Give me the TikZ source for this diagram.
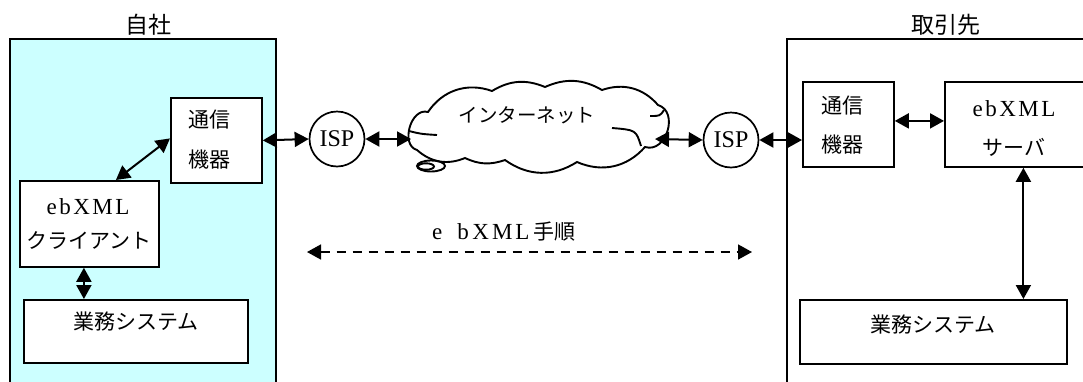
\documentclass[tikz,border=0pt]{standalone}
\usepackage{fontspec}
\setmainfont{Liberation Serif}
\newfontfamily\jp{Noto Sans CJK JP}
\usetikzlibrary{arrows.meta}
\definecolor{lcyan}{RGB}{204,255,255}
\newcommand\ebxmlword{e\kern2.5pt b\kern2.5pt X\kern2.5pt M\kern2.5pt L}
\tikzset{
  area/.style={draw, line width=1.7pt, inner sep=0pt, anchor=north west},
  box/.style={draw, line width=1.8pt, fill=white, inner sep=0pt, anchor=north west},
  jptxt/.style={inner sep=0pt, font=\jp\fontsize{21}{25}\selectfont},
  titletxt/.style={inner sep=0pt, font=\jp\fontsize{23}{27}\selectfont},
  lattxt/.style={inner sep=0pt, font=\fontsize{23}{27}\selectfont},
  ispnode/.style={draw, circle, line width=1.7pt, minimum size=55pt, inner sep=0pt, font=\fontsize{24}{28}\selectfont},
  biarrow/.style={{Triangle[length=14pt,width=15pt]}-{Triangle[length=14pt,width=15pt]}, line width=2pt},
  dasharrow/.style={{Triangle[length=14pt,width=15pt]}-{Triangle[length=14pt,width=15pt]}, line width=1.6pt, dash pattern=on 9pt off 7pt},
  cloudline/.style={line width=1.9pt}
}
\begin{document}
\begin{tikzpicture}[x=1pt,y=-1pt]
\useasboundingbox (0,0) rectangle (1083,381);
\clip (0,0) rectangle (1083,381);

% areas
\node[area, fill=lcyan, minimum width=266pt, minimum height=360pt] (own) at (9,38) {};
\node[area, fill=white, minimum width=310pt, minimum height=360pt] (partner) at (786,38) {};
\node[titletxt] (owntitle) at (148,25) {自社};
\node[titletxt] (partnertitle) at (946,25) {取引先};

% left side boxes
\node[box, minimum width=91pt, minimum height=85pt] (lcom) at (170,97) {};
\node[jptxt, align=left] (lcomtxt) at (209,140) {通信\\[15pt]機器};
\node[box, minimum width=139pt, minimum height=86pt] (cli) at (19,180) {};
\node[lattxt] (clitxt1) at (88,207) {\ebxmlword};
\node[jptxt] (clitxt2) at (89,240) {クライアント};
\node[box, minimum width=224pt, minimum height=63pt] (lgyo) at (23,299) {};
\node[jptxt] (lgyotxt) at (136,322) {業務システム};

% right side boxes
\node[box, minimum width=91pt, minimum height=85pt] (rcom) at (802,81) {};
\node[jptxt, align=left] (rcomtxt) at (842,125.5) {通信\\[14pt]機器};
\node[box, minimum width=139pt, minimum height=85pt] (srv) at (944,81) {};
\node[lattxt] (srvtxt1) at (1014,109) {\ebxmlword};
\node[jptxt] (srvtxt2) at (1014,147) {サーバ};
\node[box, minimum width=267pt, minimum height=64pt] (rgyo) at (799,299) {};
\node[jptxt] (rgyotxt) at (933,325) {業務システム};

% ISP nodes
\node[ispnode] (isp1) at (337,139) {ISP};
\node[ispnode] (isp2) at (731,140) {ISP};

% cloud
\draw[cloudline, fill=white]
  (417,150) to[bend left=90, looseness=1.15] (428,112)
  to[bend left=38] (492,91)
  to[bend left=27] (545,87)
  to[bend left=27] (602,90)
  to[bend left=34] (658,105)
  to[bend left=90, looseness=1.3] (645,147)
  to[bend left=36] (577,162)
  to[bend left=34] (505,160)
  to[bend left=22] (465,158)
  to[bend left=32] cycle;
\draw[cloudline] (409,131) .. controls (421,134) .. (437,135);
\draw[cloudline] (612,128) .. controls (636,130) .. (641,146);
\draw[cloudline] (650,116) .. controls (660,116) .. (664,110);
\draw[cloudline, fill=white] (431,166) ellipse [x radius=14, y radius=5.5];
\draw[cloudline] (426,166.5) ellipse [x radius=8, y radius=3.2];
\node[inner sep=0pt, font=\jp\fontsize{19.5}{23}\selectfont] (nettxt) at (527,115) {インターネット};
\coordinate (cloudW) at (411,139);
\coordinate (cloudE) at (655,139);

% connectors
\draw[biarrow] ([xshift=26.5pt]cli.north) -- ([yshift=2pt]lcom.west);
\draw[biarrow] ([xshift=-5.5pt]cli.south) -- ([xshift=-5.5pt]cli.south |- lgyo.north);
\draw[biarrow] (lcom.east) -- (isp1.west);
\draw[biarrow] (isp1.east) -- (cloudW);
\draw[biarrow] (cloudE) -- (isp2.west);
\draw[biarrow] (isp2.east) -- (isp2.east -| rcom.west);
\draw[biarrow] ([yshift=3.5pt]rcom.east) -- ([yshift=3.5pt]srv.west);
\draw[biarrow] ([xshift=9pt]srv.south) -- ([xshift=9pt]srv.south |- rgyo.north);

% ebXML procedure
\coordinate (procL) at (307,252);
\coordinate (procR) at (752,252);
\draw[dasharrow] (procL) -- (procR);
\node[inner sep=0pt, anchor=west, font=\fontsize{23}{27}\selectfont] (proctxt) at (432,232) {e\kern15pt b\kern3.5pt X\kern3pt M\kern3pt L\kern4pt{\jp\fontsize{21}{25}\selectfont 手順}};
\end{tikzpicture}
\end{document}
